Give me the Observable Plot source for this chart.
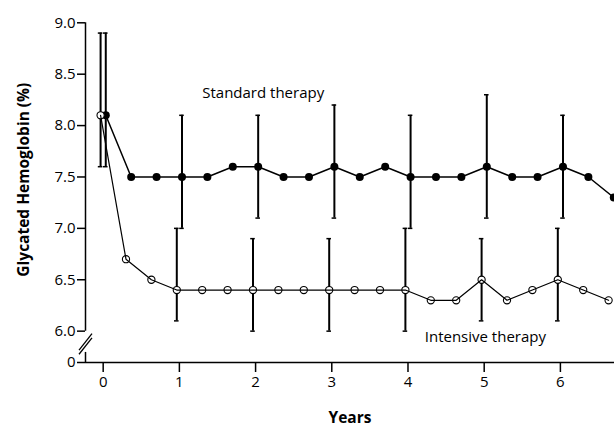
<!DOCTYPE html>
<html>
<head>
<meta charset="utf-8">
<script src="https://cdn.jsdelivr.net/npm/d3@7"></script>
<script src="https://cdn.jsdelivr.net/npm/@observablehq/plot@0.6"></script>
<style>
  html, body { margin: 0; padding: 0; background: #fff; }
  svg { display: block; }
</style>
</head>
<body>
<div id="chart"></div>
<script>
// Measurement month (every 4 months)
const months = [0,4,8,12,16,20,24,28,32,36,40,44,48,52,56,60,64,68,72,76,80];
const standard  = [8.1,7.5,7.5,7.5,7.5,7.6,7.6,7.5,7.5,7.6,7.5,7.6,7.5,7.5,7.5,7.6,7.5,7.5,7.6,7.5,7.3];
const intensive = [8.1,6.7,6.5,6.4,6.4,6.4,6.4,6.4,6.4,6.4,6.4,6.4,6.4,6.3,6.3,6.5,6.3,6.4,6.5,6.4,6.3];

// Error bars (yearly)
const barYears = [0,1,2,3,4,5,6];
const stdLow  = [7.6,7.0,7.1,7.1,7.0,7.1,7.1];
const stdHigh = [8.9,8.1,8.1,8.2,8.1,8.3,8.1];
const intLow  = [7.6,6.1,6.0,6.0,6.0,6.1,6.1];
const intHigh = [8.9,7.0,6.9,6.9,7.0,6.9,7.0];

const yTicks = [6.0,6.5,7.0,7.5,8.0,8.5,9.0];
const xTicks = [0,1,2,3,4,5,6];

const yZero = 5.695;   // position of the "0" on the broken axis
const xMin = -0.232, xMax = 6.71;
const off = 0.034;     // horizontal dodge between the groups
const cap = 0.03;

const stdPts = months.map((m,i) => ({x: m/12 + off, y: standard[i]}));
const intPts = months.map((m,i) => ({x: m/12 - off, y: intensive[i]}));
const stdBars = barYears.map((t,i) => ({x: t + off, lo: stdLow[i], hi: stdHigh[i]}));
const intBars = barYears.map((t,i) => ({x: t - off, lo: intLow[i], hi: intHigh[i]}));
const allBars = stdBars.concat(intBars);
const caps = allBars.flatMap(b => [{x: b.x, y: b.lo}, {x: b.x, y: b.hi}]);

const axisSegments = [{y1: 6.0, y2: 9.0}, {y1: yZero, y2: 5.793}];
const breakCenters = [5.895, 5.855];
const breaks = breakCenters.map(c => ({x1: xMin - 0.085, y1: c - 0.08, x2: xMin + 0.085, y2: c + 0.08}));

const font = "'Open Sans', Lato, sans-serif";

const chart = Plot.plot({
  width: 614,
  height: 428,
  marginLeft: 85,
  marginRight: 0,
  marginTop: 22.3,
  marginBottom: 66,
  style: {fontFamily: font, fontSize: "15px", color: "#000", background: "#fff", overflow: "visible"},
  x: {domain: [xMin, xMax]},
  y: {domain: [yZero, 9.0]},
  marks: [
    // axes
    Plot.ruleY([yZero], {stroke: "#000", strokeWidth: 1.5}),
    Plot.ruleX(axisSegments, {x: xMin, y1: "y1", y2: "y2", stroke: "#000", strokeWidth: 1.5}),
    Plot.link(breaks, {x1: "x1", y1: "y1", x2: "x2", y2: "y2", stroke: "#000", strokeWidth: 1.3}),
    Plot.axisY([yZero, ...yTicks], {
      tickSize: 8, tickPadding: 2, strokeWidth: 1.5, fontSize: 15,
      tickFormat: d => d < 6 ? "0" : d.toFixed(1), label: null
    }),
    Plot.axisX(xTicks, {
      tickSize: 10, tickPadding: 4, strokeWidth: 1.5, fontSize: 15, label: null
    }),
    // error bars
    Plot.ruleX(allBars, {x: "x", y1: "lo", y2: "hi", stroke: "#000", strokeWidth: 2}),
    Plot.ruleY(caps, {x1: d => d.x - cap, x2: d => d.x + cap, y: "y", stroke: "#000", strokeWidth: 1.5}),
    // standard therapy
    Plot.line(stdPts, {x: "x", y: "y", stroke: "#000", strokeWidth: 1.5}),
    Plot.dot(stdPts, {x: "x", y: "y", r: 4, fill: "#000", stroke: "none"}),
    // intensive therapy
    Plot.dot(intPts, {x: "x", y: "y", r: 3.6, fill: "#fff", stroke: "#000", strokeWidth: 1.1}),
    Plot.line(intPts, {x: "x", y: "y", stroke: "#000", strokeWidth: 1.2}),
    // labels
    Plot.text(["Standard therapy"], {x: 1.30, y: 8.27, textAnchor: "start", lineAnchor: "bottom", fontSize: 15, fill: "#000"}),
    Plot.text(["Intensive therapy"], {x: 4.22, y: 5.893, textAnchor: "start", lineAnchor: "bottom", fontSize: 15, fill: "#000"}),
    Plot.text(["Years"], {frameAnchor: "bottom", textAnchor: "middle", lineAnchor: "bottom", dy: 60, fontSize: 15.5, fontWeight: "bold", fill: "#000"}),
    Plot.text(["Glycated Hemoglobin (%)"], {frameAnchor: "left", textAnchor: "middle", rotate: -90, lineAnchor: "bottom", dx: -57, dy: -13, fontSize: 15.5, fontWeight: "bold", fill: "#000"})
  ]
});
document.getElementById("chart").appendChild(chart);
</script>
</body>
</html>
